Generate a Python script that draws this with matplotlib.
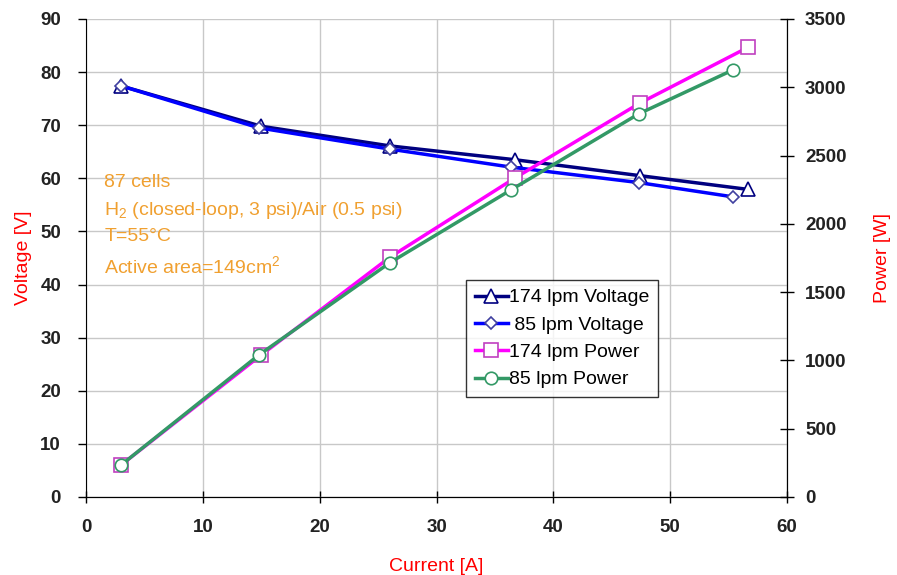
import matplotlib.pyplot as plt

# data
current_174 = [3.0, 15.0, 26.0, 36.7, 47.4, 56.7]
voltage_174 = [77.4, 69.8, 66.1, 63.5, 60.5, 57.9]
current_85 = [3.0, 14.8, 26.0, 36.4, 47.3, 55.4]
voltage_85 = [77.4, 69.5, 65.5, 62.1, 59.2, 56.5]
power_174 = [234, 1040, 1755, 2335, 2884, 3294]
power_85 = [234, 1040, 1715, 2250, 2805, 3128]

info_lines = ["87 cells", r"H$_2$ (closed-loop, 3 psi)/Air (0.5 psi)",
              "T=55°C", r"Active area=149cm$^2$"]
info_pos = [0.657, 0.600, 0.544, 0.481]

plt.rcParams['font.family'] = ['Liberation Sans', 'DejaVu Sans']
plt.rcParams['mathtext.fontset'] = 'custom'
plt.rcParams['mathtext.rm'] = 'Liberation Sans'

fig = plt.figure(figsize=(8.97, 5.75), dpi=100)
ax = fig.add_axes([0.0959, 0.1357, 0.7815, 0.8313])
ax2 = ax.twinx()

l1, = ax.plot(current_174, voltage_174, color='#000080', lw=2.5, marker='^', ms=10,
              mfc='white', mec='#000080', mew=1.2, label='174 lpm Voltage')
l2, = ax.plot(current_85, voltage_85, color='#0000ff', lw=2.5, marker='D', ms=6,
              mfc='white', mec='#4040a0', mew=1.2, label=' 85 lpm Voltage')
l3, = ax2.plot(current_174, power_174, color='#ff00ff', lw=2.5, marker='s', ms=10,
               mfc='white', mec='#c040c0', mew=1.2, label='174 lpm Power')
l4, = ax2.plot(current_85, power_85, color='#339966', lw=2.5, marker='o', ms=9,
               mfc='white', mec='#339966', mew=1.2, label='85 lpm Power')

ax.set_xlim(0, 60)
ax.set_ylim(0, 90)
ax2.set_ylim(0, 3500)
ax.set_xticks(range(0, 61, 10))
ax.set_yticks(range(0, 91, 10))
ax2.set_yticks(range(0, 3501, 500))
ax.grid(True, color='#c8c8c8', lw=1)
ax.set_axisbelow(True)

for a in (ax, ax2):
    a.spines['top'].set_visible(False)
    a.tick_params(labelsize=13.5, width=1, length=6)
ax.tick_params(axis='y', direction='out', pad=12)
ax.tick_params(axis='x', direction='inout', length=8, pad=12)
ax2.tick_params(axis='y', direction='inout', length=10, pad=8)
ax2.spines['left'].set_visible(False)
for lab in ax.get_xticklabels() + ax.get_yticklabels() + ax2.get_yticklabels():
    lab.set_fontweight('bold')
    lab.set_color('#222222')

ax.set_xlabel('Current [A]', color='red', fontsize=14, labelpad=16)
ax.set_ylabel('Voltage [V]', color='red', fontsize=14, labelpad=6)
ax2.set_ylabel('Power [W]', color='red', fontsize=14, labelpad=20)

for t, yp in zip(info_lines, info_pos):
    ax.text(0.026, yp, t, transform=ax.transAxes, color='#f0a030',
            fontsize=14, va='center')

leg = ax2.legend(handles=[l1, l2, l3, l4], loc='upper left',
                 bbox_to_anchor=(0.542, 0.454), fontsize=14, frameon=True,
                 fancybox=False, edgecolor='black', handlelength=1.7,
                 handletextpad=0.05, borderpad=0.45, labelspacing=0.5,
                 borderaxespad=0)
leg.get_frame().set_linewidth(1.0)

fig.savefig('out.png', dpi=100)
